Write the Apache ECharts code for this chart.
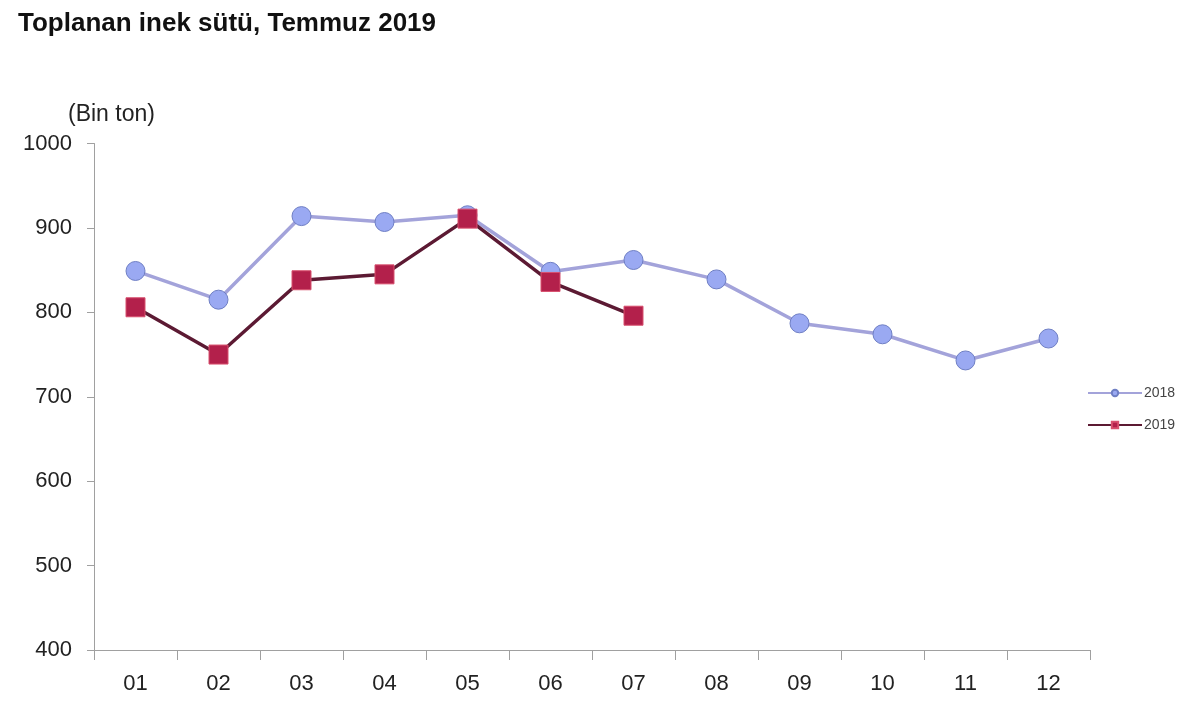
<!DOCTYPE html>
<html>
<head>
<meta charset="utf-8">
<script src="https://cdn.jsdelivr.net/npm/echarts@6/dist/echarts.min.js"></script>
<style>html,body{margin:0;padding:0;background:#fff}#c{width:1200px;height:708px}</style>
</head>
<body>
<div id="c"></div>
<script>
var categories = ['01','02','03','04','05','06','07','08','09','10','11','12'];
var series2018 = [849, 815, 914, 907, 915, 848, 862, 839, 787, 774, 743, 769];
var series2019 = [806, 750, 838, 845, 911, 836, 796];
var yTicks = [400, 500, 600, 700, 800, 900, 1000];

var chart = echarts.init(document.getElementById('c'), null, {renderer: 'canvas'});
var font = '"Liberation Sans", Arial, sans-serif';
chart.setOption({
  animation: false,
  backgroundColor: '#ffffff',
  title: {
    text: 'Toplanan inek sütü, Temmuz 2019',
    left: 13, top: 6,
    textStyle: {fontFamily: font, fontSize: 26, fontWeight: 'bold', color: '#111'}
  },
  graphic: [{
    type: 'text', left: 68, top: 103,
    style: {text: '(Bin ton)', font: '23px "Liberation Sans", Arial, sans-serif', fill: '#222'}
  }],
  legend: {
    orient: 'vertical', left: 1082, top: 381, itemGap: 18,
    itemWidth: 54, itemHeight: 8,
    textStyle: {fontFamily: font, fontSize: 14, color: '#444', padding: [0,0,0,-3]},
    data: ['2018', '2019']
  },
  grid: {left: 94, right: 110, top: 143.5, bottom: 58, containLabel: false},
  xAxis: {
    type: 'category', data: categories, boundaryGap: true,
    axisLine: {lineStyle: {color: '#a0a0a0', width: 1}},
    axisTick: {show: true, length: 10, lineStyle: {color: '#a0a0a0'}, alignWithLabel: false},
    axisLabel: {fontFamily: font, fontSize: 22, color: '#222', margin: 23}
  },
  yAxis: {
    type: 'value', min: yTicks[0], max: yTicks[yTicks.length-1], interval: 100,
    splitLine: {show: false},
    axisLine: {show: true, lineStyle: {color: '#a0a0a0', width: 1}},
    axisTick: {show: true, length: 7, lineStyle: {color: '#a0a0a0'}},
    axisLabel: {fontFamily: font, fontSize: 22, color: '#222', margin: 22,
      formatter: function (v) { return String(v); }}
  },
  series: [{
    name: '2018', type: 'line', data: series2018,
    symbol: 'circle', symbolSize: 19,
    lineStyle: {color: '#a3a3da', width: 3.5},
    itemStyle: {color: '#9aa9f2', borderColor: '#6f7fc4', borderWidth: 1},
    z: 2
  }, {
    name: '2019', type: 'line', data: series2019,
    symbol: 'rect', symbolSize: 19,
    lineStyle: {color: '#5c1a33', width: 3.5},
    itemStyle: {color: '#b3204b', borderColor: '#d8506e', borderWidth: 1},
    z: 3
  }]
});
</script>
</body>
</html>
